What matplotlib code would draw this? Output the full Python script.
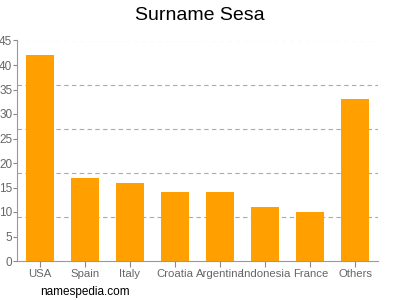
import numpy as np
import matplotlib
matplotlib.use('Agg')
import matplotlib.pyplot as plt

countries = ['USA', 'Spain', 'Italy', 'Croatia', 'Argentina', 'Indonesia', 'France', 'Others']
counts = [42, 17, 16, 14, 14, 11, 10, 33]
yticks = [0, 5, 10, 15, 20, 25, 30, 35, 40, 45]
gridlines = [9, 18, 27, 36, 45]

plt.rcParams['font.family'] = ['Liberation Sans', 'DejaVu Sans']

fig = plt.figure(figsize=(4, 3), dpi=100)
ax = fig.add_axes([0.0425, 0.13, 0.9025, 0.735])

x = np.arange(len(countries))
for g in gridlines:
    ax.axhline(g, color='#aaaaaa', linestyle=(0, (4, 3)), linewidth=0.8, zorder=1)
ax.bar(x, counts, width=0.62, color='#ffa000', zorder=2)

ax.set_xlim(-0.5, len(countries) - 0.5)
ax.set_ylim(0, 45)
ax.set_yticks(yticks)
ax.set_xticks(x)
ax.set_xticklabels(countries, fontsize=8.2)
ax.tick_params(axis='both', colors='#888888', labelcolor='#666666', width=0.8)
ax.tick_params(axis='y', pad=0.3, length=3, labelsize=8.5)
ax.tick_params(axis='x', pad=2, length=4)
for s in ['top', 'right']:
    ax.spines[s].set_visible(False)
for s in ['left', 'bottom']:
    ax.spines[s].set_color('#999999')
    ax.spines[s].set_linewidth(0.8)

fig.text(0.5, 0.95, 'Surname Sesa', ha='center', va='center', fontsize=14, color='#000000')
fig.text(0.1, 0.028, 'namespedia.com', ha='left', va='center', fontsize=8.5, color='#000000')

fig.savefig('out.png', dpi=100)
